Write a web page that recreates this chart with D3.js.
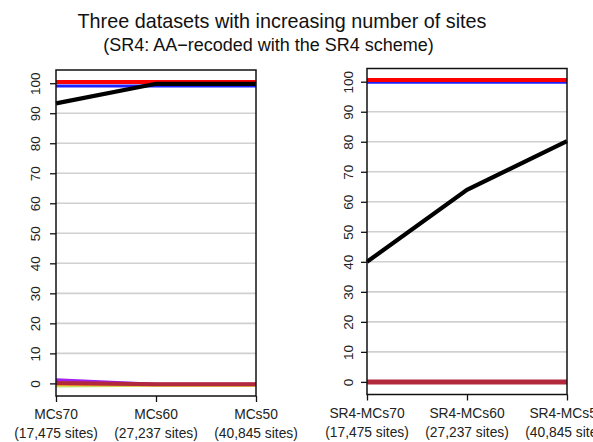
<!DOCTYPE html>
<html>
<head>
<meta charset="utf-8">
<script src="https://cdn.jsdelivr.net/npm/d3@7"></script>
<style>
  html, body { margin: 0; padding: 0; background: #fff; }
  svg { display: block; font-family: "Liberation Sans", Arial, sans-serif; }
</style>
</head>
<body>
<svg id="chart" width="593" height="442"></svg>
<script>
// Dataset labels
const categoriesA = ["MCs70", "MCs60", "MCs50"];
const categoriesB = ["SR4-MCs70", "SR4-MCs60", "SR4-MCs50"];
const siteLabels = ["(17,475 sites)", "(27,237 sites)", "(40,845 sites)"];
const yTicks = [0, 10, 20, 30, 40, 50, 60, 70, 80, 90, 100];

// Support values per dataset (percent), left panel
const purpleA = [1.2, -0.3, -0.3];
const orangeA = [-0.4, -0.5, -0.5];
const greenA = [-0.9, -0.6, -0.6];
const crimsonA = [0.1, -0.3, -0.3];
const blueA = [99.1, 99.1, 99.1];
const redA = [100.4, 100.4, 100.4];
const blackA = [93.3, 99.8, 99.8];

// Right panel (SR4-recoded)
const purpleB = [0, 0, 0];
const orangeB = [0, 0, 0];
const greenB = [0, 0, 0];
const crimsonB = [0, 0, 0];
const blueB = [99.8, 99.8, 99.8];
const redB = [100.6, 100.6, 100.6];
const blackB = [40, 64, 80.2];

const svg = d3.select("#chart");

svg.append("text")
  .attr("x", 282).attr("y", 28)
  .attr("text-anchor", "middle")
  .attr("font-size", 19.8)
  .attr("fill", "#111")
  .text("Three datasets with increasing number of sites");

svg.append("text")
  .attr("x", 268.5).attr("y", 50.5)
  .attr("text-anchor", "middle")
  .attr("font-size", 18)
  .attr("fill", "#111")
  .text("(SR4: AA\u2212recoded with the SR4 scheme)");

function panel(opts) {
  const { left, right, top, bottom, cats, series, labelOffset } = opts;
  const x = d3.scalePoint().domain(cats).range([left, right]).padding(0);
  const y = d3.scaleLinear().domain([-4.2, 104.4]).range([bottom, top]);
  const g = svg.append("g");

  // horizontal grid
  g.selectAll("line.grid").data(yTicks).join("line")
    .attr("class", "grid")
    .attr("x1", left).attr("x2", right)
    .attr("y1", d => y(d)).attr("y2", d => y(d))
    .attr("stroke", "#d0d0d0").attr("stroke-width", 1.6);

  const line = d3.line().x((d, i) => x(cats[i])).y(d => y(d));
  series.forEach(s => {
    g.append("path")
      .datum(s.values)
      .attr("d", line)
      .attr("fill", "none")
      .attr("stroke", s.color)
      .attr("stroke-width", s.width);
  });

  // frame
  g.append("rect")
    .attr("x", left).attr("y", top)
    .attr("width", right - left).attr("height", bottom - top)
    .attr("fill", "none").attr("stroke", "#111").attr("stroke-width", 1.5);

  // y axis
  const ya = g.append("g").attr("transform", `translate(${left},0)`)
    .call(d3.axisLeft(y).tickValues(yTicks).tickSize(6).tickSizeOuter(0).tickFormat(d3.format("d")));
  ya.select(".domain").remove();
  ya.selectAll(".tick line").attr("stroke", "#111").attr("stroke-width", 1.3);
  ya.selectAll(".tick text")
    .attr("font-size", 13.5).attr("fill", "#222")
    .attr("font-family", "Liberation Sans, Arial, sans-serif")
    .attr("transform", `translate(${-labelOffset},0) rotate(-90)`)
    .attr("x", 0).attr("y", 0).attr("dy", "0.35em")
    .attr("text-anchor", "middle");

  // x axis
  const xa = g.append("g").attr("transform", `translate(0,${bottom})`)
    .call(d3.axisBottom(x).tickSize(6).tickSizeOuter(0).tickFormat(""));
  xa.select(".domain").remove();
  xa.selectAll(".tick line").attr("stroke", "#111").attr("stroke-width", 1.3);

  cats.forEach((c, i) => {
    g.append("text").attr("x", x(c)).attr("y", bottom + 23)
      .attr("text-anchor", "middle").attr("font-size", 13.8).attr("fill", "#222").text(c);
    g.append("text").attr("x", x(c)).attr("y", bottom + 42)
      .attr("text-anchor", "middle").attr("font-size", 13.8).attr("fill", "#222").text(siteLabels[i]);
  });
}

panel({
  left: 56, right: 256, top: 70, bottom: 396, cats: categoriesA, labelOffset: 20.5,
  series: [
    { values: blueA, color: "#1f1fff", width: 3 },
    { values: redA, color: "#ff0000", width: 4 },
    { values: blackA, color: "#000", width: 4.2 },
    { values: greenA, color: "#c8e06a", width: 3 },
    { values: orangeA, color: "#f0a020", width: 3 },
    { values: purpleA, color: "#a020f0", width: 3 },
    { values: crimsonA, color: "#b2283c", width: 4 }
  ]
});

panel({
  left: 367, right: 567, top: 68.5, bottom: 394.5, cats: categoriesB, labelOffset: 19,
  series: [
    { values: blueB, color: "#1f1fff", width: 3 },
    { values: redB, color: "#ff0000", width: 4 },
    { values: blackB, color: "#000", width: 4.2 },
    { values: greenB, color: "#c8e06a", width: 3 },
    { values: orangeB, color: "#f0a020", width: 3 },
    { values: purpleB, color: "#a020f0", width: 3 },
    { values: crimsonB, color: "#b2283c", width: 5 }
  ]
});
</script>
</body>
</html>
